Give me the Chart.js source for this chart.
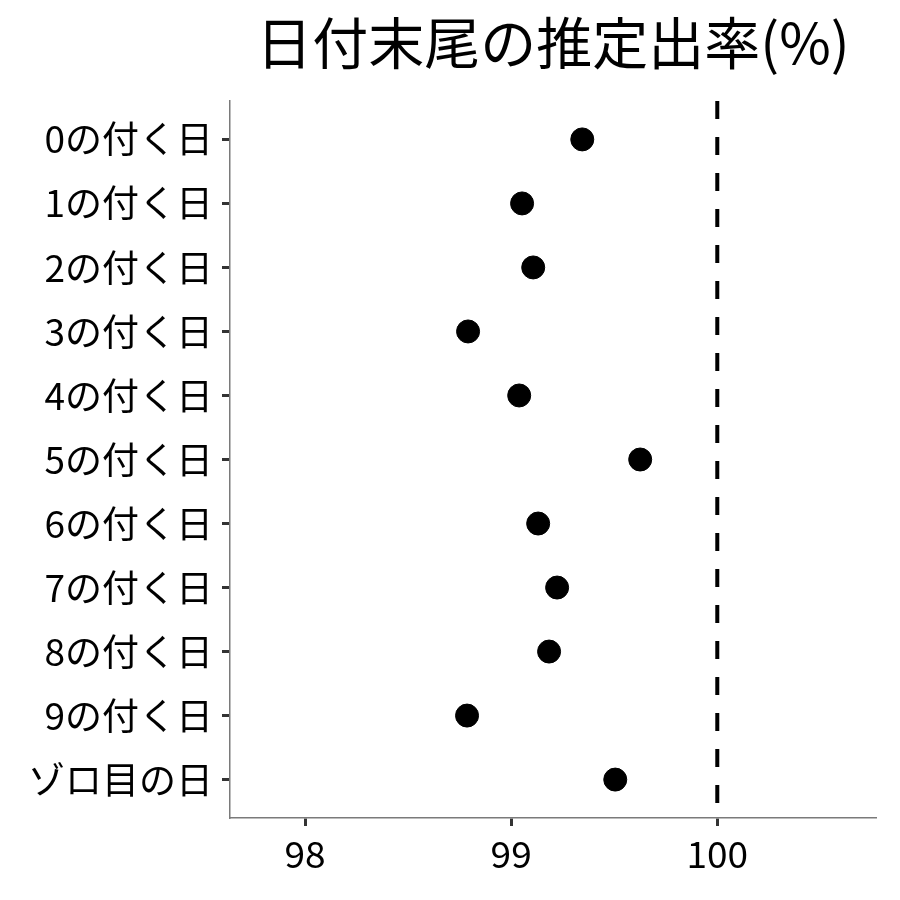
<!DOCTYPE html>
<html>
<head>
<meta charset="utf-8">
<script src="https://cdn.jsdelivr.net/npm/chart.js@4"></script>
<style>
  html, body { margin: 0; padding: 0; background: #fff; }
  #wrap { width: 900px; height: 900px; }
</style>
</head>
<body>
<div id="wrap"><canvas id="dotChart" width="900" height="900"></canvas></div>
<script>
const chartTitle = '日付末尾の推定出率(%)';
const dayLabels = ['0の付く日', '1の付く日', '2の付く日', '3の付く日', '4の付く日', '5の付く日',
                   '6の付く日', '7の付く日', '8の付く日', '9の付く日', 'ゾロ目の日'];
const payoutRates = [99.345, 99.053, 99.107, 98.791, 99.039, 99.626, 99.131, 99.223, 99.184, 98.786, 99.505];
const xTicks = [98, 99, 100];
const refLine = 100;

const fontFamily = '"Noto Sans CJK JP", "Noto Sans", sans-serif';

// title centred over the plot area, like ggplot does it
const plotTitle = {
    id: 'plotTitle',
    afterDraw(chart) {
        const { ctx, chartArea } = chart;
        ctx.save();
        ctx.font = '56px ' + fontFamily;
        ctx.fillStyle = '#000';
        ctx.textAlign = 'center';
        ctx.textBaseline = 'middle';
        ctx.fillText(chartTitle, (chartArea.left + chartArea.right) / 2, 43);
        ctx.restore();
    }
};

const ctx = document.getElementById('dotChart').getContext('2d');
new Chart(ctx, {
    type: 'scatter',
    data: {
        datasets: [
            {
                data: payoutRates.map((v, i) => ({ x: v, y: i })),
                backgroundColor: '#000',
                borderColor: '#000',
                pointRadius: 11.5,
                pointHoverRadius: 11.5
            },
            {
                type: 'line',
                data: [{ x: refLine, y: -0.6 }, { x: refLine, y: dayLabels.length - 0.4 }],
                borderColor: '#000',
                borderWidth: 4,
                borderDash: [18, 18],
                pointRadius: 0,
                fill: false
            }
        ]
    },
    options: {
        responsive: false,
        animation: false,
        layout: { padding: { top: 101, right: 24, left: 0, bottom: 0 } },
        plugins: {
            legend: { display: false },
            tooltip: { enabled: false },
            title: { display: false }
        },
        scales: {
            x: {
                type: 'linear',
                min: 97.636,
                max: 100.77,
                afterBuildTicks: scale => { scale.ticks = xTicks.map(v => ({ value: v })); },
                afterFit: scale => { scale.height = 82; },
                border: { display: true, color: '#7a7a7a', width: 1.5 },
                grid: { drawOnChartArea: false, drawTicks: true, tickLength: 8, tickColor: '#333', tickWidth: 3 },
                ticks: { color: '#000', padding: 6, font: { family: fontFamily, size: 37 } }
            },
            y: {
                type: 'linear',
                reverse: true,
                min: -0.6,
                max: dayLabels.length - 0.4,
                afterBuildTicks: scale => { scale.ticks = dayLabels.map((_, i) => ({ value: i })); },
                afterFit: scale => { scale.width = 230; },
                border: { display: true, color: '#7a7a7a', width: 1.5 },
                grid: { drawOnChartArea: false, drawTicks: true, tickLength: 8, tickColor: '#333', tickWidth: 3 },
                ticks: {
                    color: '#000',
                    padding: 9,
                    font: { family: fontFamily, size: 37 },
                    callback: value => dayLabels[value]
                }
            }
        }
    },
    plugins: [plotTitle]
});
</script>
</body>
</html>
